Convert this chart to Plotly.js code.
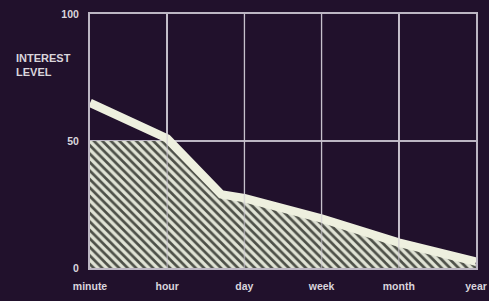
<!DOCTYPE html>
<html>
<head>
<meta charset="utf-8">
<script src="https://cdn.plot.ly/plotly-3.0.1.min.js"></script>
<style>html,body{margin:0;padding:0;background:#21112c;}#chart{width:489px;height:301px;}</style>
</head>
<body>
<div id="chart"></div>
<script>
// Data
const tickLabels = ['minute', 'hour', 'day', 'week', 'month', 'year'];
const tickPositions = [0, 1, 2, 3, 4, 5];
// Thick "interest" curve (with the bend point observed between hour and day)
const curveX = [0, 1, 1.7, 2, 3, 4, 5];
const curveY = [65, 51, 29, 27.5, 19.5, 10, 2.5];
// Hatched area: flat at 50 up to hour, then follows below the curve
const hatchX = [0, 1, 1.7, 2, 3, 4, 5];
const hatchY = [50, 50, 28, 26.5, 18.5, 9, 1.5];
const yTicks = [0, 50, 100];

const bg = '#21112c';
const grid = '#bcb6c3';
const txt = '#d9d5dc';
const font = {family: 'Liberation Sans, Arial, sans-serif', size: 10.5, color: txt, weight: 'bold'};

const traces = [
  {
    x: hatchX, y: hatchY, type: 'scatter', mode: 'lines',
    line: {width: 0, color: 'rgba(0,0,0,0)'},
    fill: 'tozeroy', fillcolor: '#4d5048',
    fillpattern: {shape: '\\', bgcolor: '#4d5048', fgcolor: '#e0e3d5', size: 6, solidity: 0.55},
    hoverinfo: 'skip', showlegend: false
  },
  {
    x: curveX, y: curveY, type: 'scatter', mode: 'lines',
    line: {width: 8.5, color: '#eef0df'},
    hoverinfo: 'skip', showlegend: false
  }
];

const shapes = tickPositions.slice(1, -1).map(v => ({
  type: 'line', xref: 'x', yref: 'paper', x0: v, x1: v, y0: 0, y1: 1,
  line: {color: 'rgba(205,200,210,0.6)', width: 1.5}, layer: 'above'
}));

const layout = {
  width: 489, height: 301,
  margin: {l: 90, r: 13, t: 14, b: 33},
  paper_bgcolor: bg, plot_bgcolor: bg,
  font: font,
  showlegend: false,
  xaxis: {
    range: [0, 5], tickvals: tickPositions, ticktext: tickLabels,
    showgrid: true, gridcolor: grid, gridwidth: 1.5,
    showline: true, mirror: true, linecolor: grid, linewidth: 2,
    zeroline: false, ticks: '', ticklabelstandoff: 7,
    tickfont: font, fixedrange: true
  },
  yaxis: {
    range: [0, 100], tickvals: yTicks,
    showgrid: true, gridcolor: grid, gridwidth: 1.5,
    showline: true, mirror: true, linecolor: grid, linewidth: 2,
    zeroline: false, ticks: '', ticklabelstandoff: 7,
    tickfont: font, fixedrange: true
  },
  shapes: shapes,
  annotations: [{
    text: 'INTEREST<br>LEVEL', xref: 'paper', yref: 'paper',
    x: -0.197, y: 0.86, xanchor: 'left', yanchor: 'top', align: 'left',
    showarrow: false, font: {family: 'Liberation Sans, Arial, sans-serif', size: 11, color: txt, weight: 'bold'}
  }]
};

Plotly.newPlot('chart', traces, layout, {staticPlot: true, displayModeBar: false});
</script>
</body>
</html>
